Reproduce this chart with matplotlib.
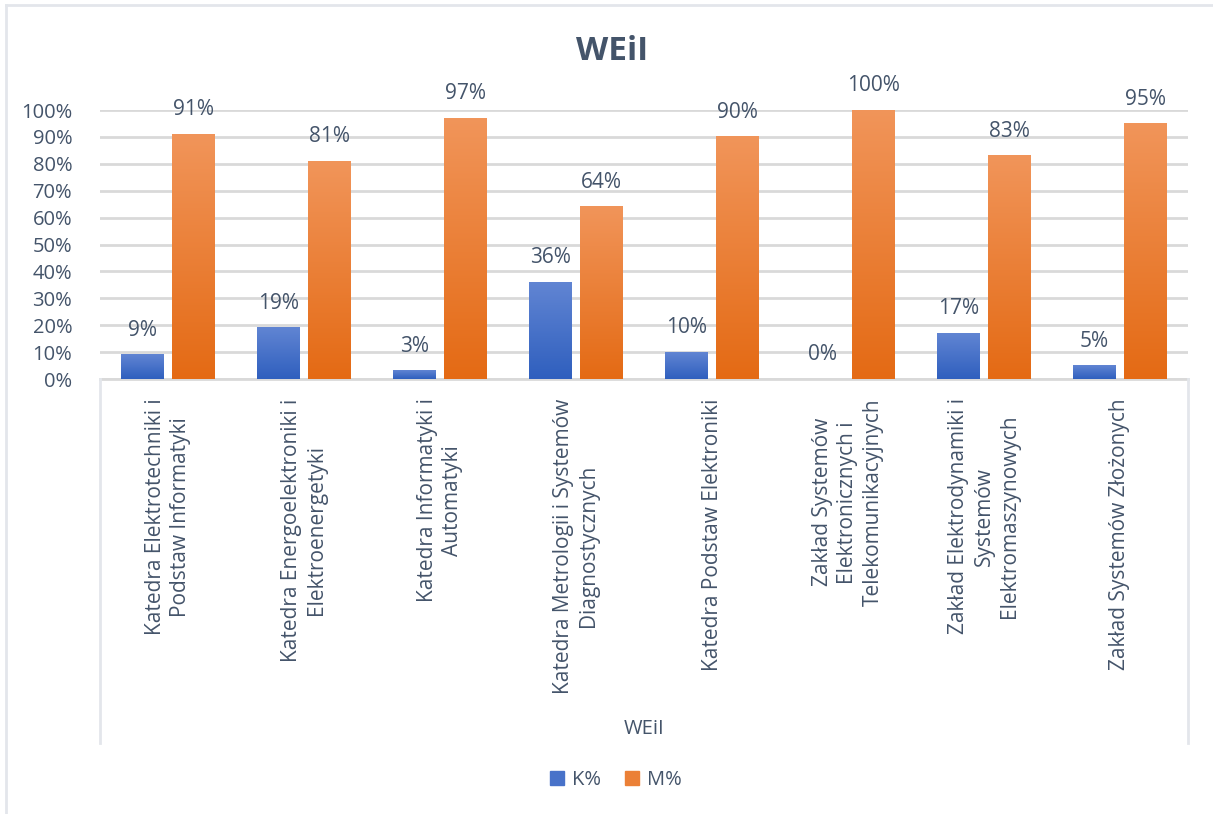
import numpy as np
import matplotlib.pyplot as plt
from matplotlib.colors import LinearSegmentedColormap
from matplotlib.patches import Rectangle
from matplotlib.lines import Line2D

plt.rcParams['font.family'] = ['Open Sans', 'DejaVu Sans']

TEXT = '#44546A'
GRID = '#D9D9D9'

categories = [
    'Katedra Elektrotechniki i\nPodstaw Informatyki',
    'Katedra Energoelektroniki i\nElektroenergetyki',
    'Katedra Informatyki i\nAutomatyki',
    'Katedra Metrologii i Systemów\nDiagnostycznych',
    'Katedra Podstaw Elektroniki',
    'Zakład Systemów\nElektronicznych i\nTelekomunikacyjnych',
    'Zakład Elektrodynamiki i\nSystemów\nElektromaszynowych',
    'Zakład Systemów Złożonych',
]
k_pct = [9, 19, 3, 36, 10, 0, 17, 5]
m_pct = [91, 81, 97, 64, 90, 100, 83, 95]
series_names = ['K%', 'M%']
group_label = 'WEiI'
title = 'WEiI'

blue_cmap = LinearSegmentedColormap.from_list('b', ['#2F5FBE', '#6185D3'])
orange_cmap = LinearSegmentedColormap.from_list('o', ['#E46A14', '#F1955A'])

fig = plt.figure(figsize=(12.13, 8.14), dpi=100)
ax = fig.add_axes([100 / 1213, 1 - 379 / 814, 1088 / 1213, 269 / 814])

x = np.arange(len(categories))
w = 0.316
off = 0.19
grad = np.linspace(0, 1, 256).reshape(-1, 1)


def grad_bars(xs, vals, cmap, label):
    bars = ax.bar(xs, vals, w, color=cmap(0.5), label=label, zorder=2)
    for b in bars:
        h = b.get_height()
        if h <= 0:
            continue
        x0 = b.get_x()
        ax.imshow(grad, cmap=cmap, origin='lower', aspect='auto',
                  extent=(x0, x0 + w, 0, h), zorder=3)
    for xi, v in zip(xs, vals):
        ax.annotate(f'{v}%', (xi, v), xytext=(0, 10),
                    textcoords='offset points', ha='center', va='bottom',
                    fontsize=15, color=TEXT, annotation_clip=False)
    return bars


grad_bars(x - off, k_pct, blue_cmap, series_names[0])
grad_bars(x + off, m_pct, orange_cmap, series_names[1])

ax.set_xlim(-0.5, len(categories) - 0.5)
ax.set_ylim(0, 100)
ax.set_yticks(np.arange(0, 101, 10))
ax.set_yticklabels([f'{v}%' for v in range(0, 101, 10)], fontsize=14.5, color=TEXT)
ax.tick_params(axis='y', length=0, pad=20)
ax.set_xticks(x)
ax.set_xticklabels(categories, rotation=90, va='top', ha='center',
                   multialignment='center', fontsize=15, color=TEXT, linespacing=1.3)
ax.tick_params(axis='x', length=0, pad=14)
ax.yaxis.grid(True, color=GRID, linewidth=2, zorder=0)
ax.set_axisbelow(True)
for s in ['top', 'right', 'left']:
    ax.spines[s].set_visible(False)
ax.spines['bottom'].set_color(GRID)
ax.spines['bottom'].set_linewidth(2)

# multi-level category box
for xp in [100, 1188]:
    fig.add_artist(Line2D([xp / 1213, xp / 1213], [1 - 379 / 814, 1 - 743 / 814],
                          color='#E3E6EB', linewidth=2))
fig.text(644 / 1213, 1 - 729 / 814, group_label, ha='center', va='center',
         fontsize=14.5, color=TEXT)

# outer frame (top and left)
fig.add_artist(Line2D([6 / 1213, 6 / 1213], [0, 1 - 5 / 814], color='#E3E6EB', linewidth=2))
fig.add_artist(Line2D([6 / 1213, 1], [1 - 5 / 814, 1 - 5 / 814], color='#E3E6EB', linewidth=2))

fig.text(612 / 1213, 1 - 52 / 814, title, ha='center', va='center',
         fontsize=24, fontweight='bold', color=TEXT)

handles = [Rectangle((0, 0), 1, 1, color=blue_cmap(0.5)),
           Rectangle((0, 0), 1, 1, color=orange_cmap(0.5))]
fig.legend(handles, series_names, loc='center', bbox_to_anchor=(616 / 1213, 1 - 780 / 814),
           ncol=2, frameon=False, fontsize=14.5, labelcolor=TEXT,
           handlelength=0.7, handleheight=0.7, handletextpad=0.4, columnspacing=1.2)

fig.savefig('out.png', dpi=100)
